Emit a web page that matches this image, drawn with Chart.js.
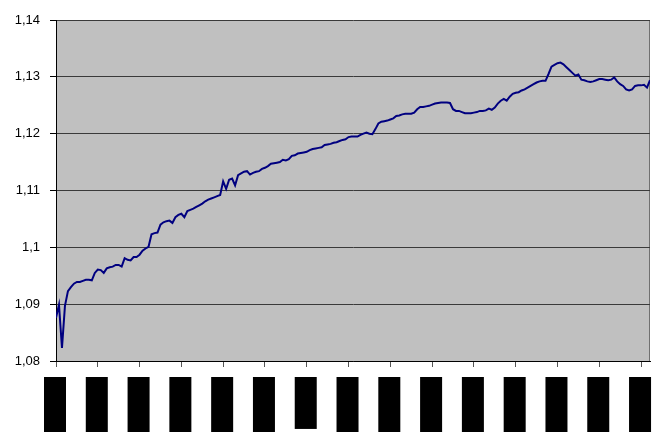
<!DOCTYPE html>
<html>
<head>
<meta charset="utf-8">
<script src="https://cdn.jsdelivr.net/npm/chart.js@4.4.0/dist/chart.umd.min.js"></script>
<style>
  html, body { margin: 0; padding: 0; background: #fff; }
  #wrap { width: 652px; height: 432px; }
</style>
</head>
<body>
<div id="wrap"><canvas id="rateChart" width="652" height="432"></canvas></div>
<script>
// daily rate
const rate = [
  1.0876, 1.0899, 1.0823, 1.0897, 1.0923, 1.0930, 1.0936, 1.0939, 1.0939, 1.0941,
  1.0943, 1.0943, 1.0942, 1.0955, 1.0961, 1.0960, 1.0955, 1.0963, 1.0965, 1.0966,
  1.0969, 1.0969, 1.0966, 1.0981, 1.0978, 1.0977, 1.0983, 1.0983, 1.0987, 1.0994,
  1.0998, 1.1001, 1.1023, 1.1025, 1.1026, 1.1040, 1.1044, 1.1046, 1.1047, 1.1043,
  1.1053, 1.1057, 1.1059, 1.1053, 1.1064, 1.1066, 1.1068, 1.1071, 1.1074, 1.1077,
  1.1081, 1.1084, 1.1086, 1.1088, 1.1090, 1.1092, 1.1116, 1.1103, 1.1119, 1.1121,
  1.1109, 1.1127, 1.1130, 1.1133, 1.1134, 1.1128, 1.1131, 1.1133, 1.1134, 1.1138,
  1.1140, 1.1143, 1.1147, 1.1148, 1.1149, 1.1150, 1.1154, 1.1153, 1.1155, 1.1161,
  1.1162, 1.1165, 1.1166, 1.1167, 1.1168, 1.1171, 1.1173, 1.1174, 1.1175, 1.1176,
  1.1180, 1.1181, 1.1182, 1.1184, 1.1185, 1.1187, 1.1189, 1.1190, 1.1194, 1.1195,
  1.1195, 1.1195, 1.1198, 1.1200, 1.1202, 1.1200, 1.1199, 1.1208, 1.1218, 1.1221,
  1.1222, 1.1223, 1.1225, 1.1227, 1.1231, 1.1232, 1.1234, 1.1235, 1.1235, 1.1235,
  1.1237, 1.1243, 1.1247, 1.1247, 1.1248, 1.1249, 1.1251, 1.1253, 1.1254, 1.1255,
  1.1255, 1.1255, 1.1254, 1.1243, 1.1240, 1.1240, 1.1238, 1.1236, 1.1236, 1.1236,
  1.1237, 1.1238, 1.1240, 1.1240, 1.1241, 1.1244, 1.1242, 1.1246, 1.1253, 1.1258,
  1.1261, 1.1258, 1.1265, 1.1270, 1.1272, 1.1273, 1.1276, 1.1278, 1.1281, 1.1284,
  1.1287, 1.1290, 1.1292, 1.1293, 1.1293, 1.1305, 1.1318, 1.1321, 1.1324, 1.1325,
  1.1322, 1.1317, 1.1312, 1.1307, 1.1302, 1.1304, 1.1295, 1.1294, 1.1292, 1.1291,
  1.1292, 1.1294, 1.1296, 1.1296, 1.1295, 1.1294, 1.1295, 1.1299, 1.1292, 1.1287,
  1.1284, 1.1278, 1.1276, 1.1278, 1.1284, 1.1285, 1.1285, 1.1286, 1.1281, 1.1294
];

// one date label every 14 points (blacked out in the original)
const tickEvery = 14;
const tickLabels = [
  "03.01.2005", "21.01.2005", "10.02.2005", "02.03.2005", "22.03.2005",
  "11.04.2005", "1.05.2005", "19.05.2005", "08.06.2005", "28.06.2005",
  "18.07.2005", "05.08.2005", "25.08.2005", "14.09.2005", "04.10.2005"
];

const yMin = 1.08;
const yMax = 1.14;
const yStep = 0.01;

// grey plot area with a right edge
const plotBg = {
  id: "plotBg",
  beforeDraw(chart) {
    const { ctx, chartArea: a } = chart;
    ctx.save();
    ctx.fillStyle = "#c0c0c0";
    ctx.fillRect(a.left, a.top, a.right - a.left, a.bottom - a.top);
    ctx.strokeStyle = "#707070";
    ctx.lineWidth = 1;
    ctx.beginPath();
    ctx.moveTo(a.right - 0.5, a.top);
    ctx.lineTo(a.right - 0.5, a.bottom);
    ctx.stroke();
    ctx.restore();
  }
};

const ctx = document.getElementById("rateChart").getContext("2d");
const chart = new Chart(ctx, {
  type: "line",
  data: {
    datasets: [
      {
        data: rate.map((v, i) => ({ x: i, y: v })),
        borderColor: "#000080",
        borderWidth: 2,
        pointRadius: 0,
        tension: 0,
        fill: false
      }
    ]
  },
  options: {
    responsive: false,
    animation: false,
    layout: { padding: { top: 20, right: 2, left: 0, bottom: 0 } },
    plugins: {
      legend: { display: false },
      tooltip: { enabled: false }
    },
    scales: {
      x: {
        type: "linear",
        min: 0,
        max: rate.length - 1,
        afterBuildTicks: s => {
          s.ticks = tickLabels.map((_, k) => ({ value: k * tickEvery }));
        },
        afterFit: s => {
          s.height = 71;
          s.paddingLeft = 0;
          s.paddingRight = 0;
        },
        grid: { drawOnChartArea: false, drawTicks: true, tickLength: 6, tickColor: "#555" },
        border: { display: true, color: "#000", width: 1 },
        ticks: {
          autoSkip: false,
          minRotation: 90,
          maxRotation: 90,
          padding: 10,
          color: "#000",
          font: { family: "Liberation Sans", size: 11 },
          showLabelBackdrop: true,
          backdropColor: "#000",
          backdropPadding: { top: 4.4, bottom: 4.4, left: 3, right: 0 },
          labelOffset: -7.6,
          callback: (v, i) => tickLabels[i]
        }
      },
      y: {
        min: yMin,
        max: yMax,
        afterFit: s => { s.width = 56; },
        grid: { color: "#3a3a3a", tickLength: 6, tickColor: "#000" },
        border: { color: "#000" },
        ticks: {
          stepSize: yStep,
          padding: 10,
          color: "#000",
          font: { family: "Liberation Sans", size: 13 },
          callback: v => String(Math.round(v * 100) / 100).replace(".", ",")
        }
      }
    }
  },
  plugins: [plotBg]
});
</script>
</body>
</html>
